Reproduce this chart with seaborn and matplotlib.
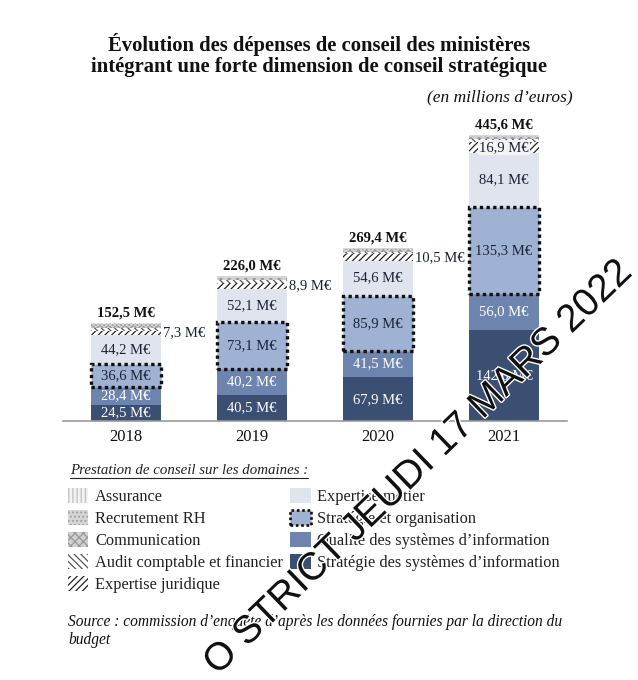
import numpy as np
import pandas as pd
import matplotlib
matplotlib.use("Agg")
import matplotlib.pyplot as plt
import seaborn as sns
from matplotlib.patches import Patch
import matplotlib.patheffects as pe

# ---------------- data ----------------
years = ["2018", "2019", "2020", "2021"]
strategie_si = [24.5, 40.5, 67.9, 142.0]
qualite_si = [28.4, 40.2, 41.5, 56.0]
strategie_org = [36.6, 73.1, 85.9, 135.3]
expertise_metier = [44.2, 52.1, 54.6, 84.1]
expertise_juridique = [7.3, 8.9, 10.5, 16.9]
audit = [4.0, 4.2, 3.5, 4.5]
communication = [3.5, 3.6, 2.8, 3.5]
recrutement = [3.0, 2.8, 2.2, 2.6]
assurance = [1.0, 0.6, 0.5, 0.7]
totals = [152.5, 226.0, 269.4, 445.6]

labels_bottom_to_top = [
    "Stratégie des systèmes d’information",
    "Qualité des systèmes d’information",
    "Stratégie et organisation",
    "Expertise métier",
    "Expertise juridique",
    "Audit comptable et financier",
    "Communication",
    "Recrutement RH",
    "Assurance",
]
series = [strategie_si, qualite_si, strategie_org, expertise_metier,
          expertise_juridique, audit, communication, recrutement, assurance]

# styles
styles = {
    "Stratégie des systèmes d’information": dict(color="#3b4f73"),
    "Qualité des systèmes d’information": dict(color="#6d84ae"),
    "Stratégie et organisation": dict(color="#a0b2d3", edgecolor="#111111", linewidth=2.4, linestyle=(0, (1, 1))),
    "Expertise métier": dict(color="#dfe4ee"),
    "Expertise juridique": dict(color="#ffffff", edgecolor="#222222", hatch="/////", linewidth=0),
    "Audit comptable et financier": dict(color="#ffffff", edgecolor="#555555", hatch="\\\\\\\\\\", linewidth=0),
    "Communication": dict(color="#d0d0d0", edgecolor="#999999", hatch="xxxx", linewidth=0),
    "Recrutement RH": dict(color="#d6d6d6", edgecolor="#a0a0a0", hatch="....", linewidth=0),
    "Assurance": dict(color="#f2f2f2", edgecolor="#c0c0c0", hatch="||||", linewidth=0),
}

plt.rcParams["hatch.linewidth"] = 0.9
sns.set_style("white")
plt.rcParams["font.family"] = ["Liberation Serif", "DejaVu Serif"]

fig = plt.figure(figsize=(6.38, 6.80), dpi=100)
ax = fig.add_axes([63 / 638, 1 - 421 / 680, (567 - 63) / 638, (421 - 120) / 680])

bottoms = np.zeros(len(years))
seg_centers = {}
for lab, vals in zip(labels_bottom_to_top, series):
    df = pd.DataFrame({"year": years, "value": vals})
    st = dict(styles[lab])
    color = st.pop("color")
    kw = dict(edgecolor=st.get("edgecolor", "none"), linewidth=st.get("linewidth", 0))
    if "hatch" in st:
        kw["hatch"] = st["hatch"]
    if "linestyle" in st:
        kw["linestyle"] = st["linestyle"]
    sns.barplot(data=df, x="year", y="value", bottom=bottoms.copy(), color=color,
                saturation=1, width=0.555, ax=ax, zorder=3 if "linestyle" in st else 2, **kw)
    seg_centers[lab] = bottoms + np.array(vals) / 2
    bottoms = bottoms + np.array(vals)

ax.set_xlim(-0.5, 3.5)
ax.set_ylim(0, 469)
ax.set_xlabel("")
ax.set_ylabel("")
ax.set_yticks([])
for s in ["top", "right", "left"]:
    ax.spines[s].set_visible(False)
ax.spines["bottom"].set_color("#9a9a9a")
ax.spines["bottom"].set_linewidth(1.2)
ax.tick_params(axis="x", length=0, labelsize=12, pad=6, colors="#111111")


def fmt(v):
    return f"{v:.1f}".replace(".", ",") + " M€"

inside = {
    "Stratégie des systèmes d’information": "#ffffff",
    "Qualité des systèmes d’information": "#ffffff",
    "Stratégie et organisation": "#1b2236",
    "Expertise métier": "#1b2236",
}
for lab, col in inside.items():
    vals = series[labels_bottom_to_top.index(lab)]
    for i, v in enumerate(vals):
        ax.text(i, seg_centers[lab][i], fmt(v), ha="center", va="center",
                fontsize=10.5, color=col, zorder=5)

# juridique labels
for i, v in enumerate(expertise_juridique):
    y = seg_centers["Expertise juridique"][i]
    if i < 3:
        ax.text(i + 0.29, y, fmt(v), ha="left", va="center", fontsize=10.5,
                color="#1b2236", zorder=5)
    else:
        ax.text(i, y, fmt(v), ha="center", va="center", fontsize=10.5, color="#1b2236",
                zorder=5, bbox=dict(boxstyle="square,pad=0.05", fc="#f4f4f4", ec="none"))

for i, t in enumerate(totals):
    ax.text(i, t + 6, fmt(t), ha="center", va="bottom", fontsize=10.5,
            fontweight="bold", color="#111111", zorder=5)

# titles
fig.text(0.5, 1 - 45 / 680, "Évolution des dépenses de conseil des ministères",
         ha="center", va="center", fontsize=14.9, fontweight="bold", color="#111111")
fig.text(0.5, 1 - 67 / 680, "intégrant une forte dimension de conseil stratégique",
         ha="center", va="center", fontsize=14.9, fontweight="bold", color="#111111")
fig.text(573 / 638, 1 - 97 / 680, "(en millions d’euros)", ha="right", va="center",
         fontsize=12.5, style="italic", color="#111111")

# legend title (underlined)
lt = fig.text(70 / 638, 1 - 470 / 680, "Prestation de conseil sur les domaines :",
              ha="left", va="center", fontsize=10.7, style="italic", color="#222222")
fig.canvas.draw()
bb = lt.get_window_extent()
fig.add_artist(plt.Line2D([bb.x0 / 638, bb.x1 / 638],
                          [(bb.y0 - 1) / 680, (bb.y0 - 1) / 680],
                          color="#222222", lw=0.8, transform=fig.transFigure))

legend_order = ["Assurance", "Recrutement RH", "Communication",
                "Audit comptable et financier", "Expertise juridique",
                "Expertise métier", "Stratégie et organisation",
                "Qualité des systèmes d’information",
                "Stratégie des systèmes d’information"]
handles = []
for lab in legend_order:
    st = styles[lab]
    handles.append(Patch(facecolor=st["color"], edgecolor=st.get("edgecolor", "none"),
                         hatch=st.get("hatch"), linewidth=st.get("linewidth", 0) * 0.8,
                         linestyle=st.get("linestyle", "-"), label=lab))
fig.legend(handles=handles, ncol=2, loc="upper left",
           bbox_to_anchor=(68 / 638, 1 - 488 / 680), frameon=False,
           fontsize=11.75, handlelength=1.25, handleheight=1.0, handletextpad=0.4,
           labelspacing=0.32, columnspacing=0.45, borderaxespad=0, borderpad=0,
           labelcolor="#222222")

fig.text(68 / 638, 1 - 622 / 680,
         "Source : commission d’enquête d’après les données fournies par la direction du",
         ha="left", va="center", fontsize=11.2, style="italic", color="#111111")
fig.text(68 / 638, 1 - 640 / 680, "budget", ha="left", va="center", fontsize=11.2,
         style="italic", color="#111111")

# watermark
fig.text(639 / 638, 1 - 280 / 680, "O STRICT JEUDI 17 MARS 2022",
         ha="right", va="bottom", rotation=44, rotation_mode="anchor",
         fontsize=28, family="Liberation Sans", color="#111111", zorder=10,
         path_effects=[pe.withStroke(linewidth=2, foreground="white")])

fig.savefig("out.png", dpi=100)
